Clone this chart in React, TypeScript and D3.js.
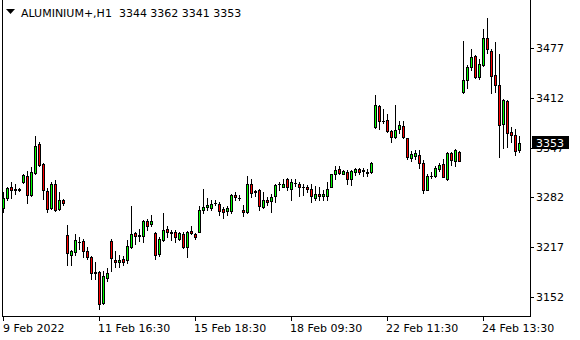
import React from "react";
import * as d3 from "d3";

const opens = [3268,3281,3295,3293,3292,3302,3310,3285,3314,3352,3326,3290,3268,3300,3267,3279,3233,3207,3210,3224,3225,3212,3204,3183,3184,3144,3177,3225,3200,3197,3201,3200,3217,3235,3233,3231,3251,3247,3235,3208,3226,3241,3236,3237,3227,3234,3217,3238,3234,3237,3265,3269,3268,3274,3273,3267,3264,3264,3285,3281,3266,3263,3300,3289,3291,3270,3279,3277,3284,3299,3296,3306,3293,3301,3300,3296,3295,3293,3281,3287,3284,3284,3296,3313,3319,3313,3315,3306,3315,3319,3318,3315,3315,3374,3402,3382,3383,3369,3361,3371,3375,3359,3334,3336,3337,3327,3292,3310,3310,3319,3326,3306,3340,3330,3341,3420,3435,3453,3467,3439,3455,3490,3474,3442,3429,3378,3408,3367,3364,3344];
const highs = [3289,3296,3302,3299,3294,3313,3316,3322,3362,3354,3327,3294,3302,3305,3289,3280,3246,3213,3234,3230,3227,3217,3205,3197,3185,3185,3189,3228,3212,3207,3205,3226,3271,3236,3241,3252,3254,3259,3236,3230,3262,3244,3239,3239,3237,3237,3238,3244,3235,3271,3293,3281,3279,3278,3276,3270,3271,3286,3289,3285,3272,3310,3306,3292,3293,3289,3283,3287,3299,3302,3306,3307,3306,3306,3302,3300,3298,3299,3297,3295,3292,3302,3313,3323,3323,3318,3318,3318,3321,3320,3321,3319,3328,3416,3403,3398,3391,3370,3403,3382,3382,3360,3343,3344,3344,3331,3312,3315,3323,3327,3332,3341,3341,3345,3343,3486,3455,3476,3468,3463,3502,3516,3476,3485,3470,3411,3409,3374,3372,3362];
const lows = [3263,3279,3281,3286,3290,3301,3275,3284,3313,3323,3280,3263,3267,3264,3266,3272,3193,3194,3207,3215,3204,3201,3175,3175,3136,3143,3173,3186,3191,3191,3193,3196,3216,3221,3225,3224,3239,3244,3201,3205,3225,3230,3226,3224,3226,3216,3204,3234,3228,3236,3261,3265,3266,3272,3259,3255,3259,3261,3279,3278,3257,3262,3283,3284,3265,3268,3272,3263,3276,3292,3295,3292,3279,3297,3284,3285,3289,3276,3279,3279,3279,3279,3295,3306,3312,3312,3300,3298,3311,3313,3310,3310,3314,3373,3372,3379,3367,3355,3360,3366,3360,3332,3329,3332,3321,3288,3291,3307,3309,3316,3308,3305,3324,3323,3329,3419,3425,3449,3438,3437,3454,3471,3419,3420,3335,3347,3348,3355,3337,3341];
const closes = [3281,3294,3291,3291,3293,3311,3285,3315,3349,3324,3291,3267,3300,3265,3278,3274,3209,3212,3226,3224,3212,3204,3183,3184,3143,3179,3183,3202,3197,3200,3198,3218,3234,3232,3231,3251,3245,3251,3207,3227,3239,3236,3235,3230,3235,3217,3237,3235,3230,3265,3270,3272,3273,3275,3264,3263,3268,3285,3282,3281,3263,3299,3288,3290,3271,3279,3276,3282,3298,3299,3299,3295,3302,3301,3296,3296,3293,3284,3286,3284,3286,3293,3312,3318,3314,3316,3306,3316,3319,3315,3316,3314,3327,3403,3382,3382,3369,3361,3370,3377,3361,3335,3339,3340,3327,3292,3310,3310,3321,3324,3309,3340,3331,3344,3330,3436,3452,3465,3440,3457,3491,3476,3441,3429,3377,3410,3366,3364,3343,3353];

const priceTicks = [3477, 3412, 3347, 3282, 3217, 3152];
const timeLabels = ["9 Feb 2022", "11 Feb 16:30", "15 Feb 18:30", "18 Feb 09:30", "22 Feb 11:30", "24 Feb 13:30"];
const timeLabelBars = [0, 24, 48, 72, 96, 120];
const title = "ALUMINIUM+,H1  3344 3362 3341 3353";
const lastPrice = 3353;

const FONT = '"DejaVu Sans", Tahoma, sans-serif';
const BULL = "#00ff00";
const BEAR = "#ff0000";

export default function App() {
  const W = 580, H = 340;
  const left = 2, right = 530, bottom = 316;
  const x = d3.scaleLinear().domain([0, opens.length - 1]).range([3, 3 + 4 * (opens.length - 1)]);
  const y = d3.scaleLinear().domain([3152, 3477]).range([296.7, 48.3]);
  const ry = (p: number) => Math.round(y(p));

  const candles = opens.map((o, i) => {
    const c = closes[i];
    const cx = Math.round(x(i));
    const yh = ry(highs[i]);
    const yl = ry(lows[i]);
    const top = ry(Math.max(o, c));
    const bot = ry(Math.min(o, c));
    const col = c > o ? BULL : BEAR;
    return (
      <g key={i}>
        <line x1={cx + 0.5} x2={cx + 0.5} y1={yh} y2={yl + 1} stroke="#000" strokeWidth={1} />
        {bot - top >= 1 ? (
          <rect x={cx - 0.5} y={top + 0.5} width={2} height={bot - top} fill={col} stroke="#000" strokeWidth={1} />
        ) : (
          <line x1={cx - 1} x2={cx + 2} y1={top + 0.5} y2={top + 0.5} stroke="#000" strokeWidth={1} />
        )}
      </g>
    );
  });

  const ly = y(lastPrice);

  return (
    <svg width={W} height={H} style={{ position: "absolute", left: 0, top: 0, background: "#fff" }} fontFamily={FONT}>
      <rect x={0} y={0} width={W} height={H} fill="#fff" />
      {/* frame */}
      <line x1={left + 0.5} x2={left + 0.5} y1={0} y2={bottom + 1} stroke="#000" />
      <line x1={right + 0.5} x2={right + 0.5} y1={0} y2={bottom + 1} stroke="#000" />
      <line x1={left} x2={right + 1} y1={bottom + 0.5} y2={bottom + 0.5} stroke="#000" />
      {candles}
      {/* price axis */}
      {priceTicks.map((p) => (
        <g key={p}>
          <line x1={right + 1} x2={right + 4} y1={Math.round(y(p)) + 0.5} y2={Math.round(y(p)) + 0.5} stroke="#000" />
          <text x={536} y={y(p)} dy="0.36em" fontSize={11} fill="#000">{p}</text>
        </g>
      ))}
      <rect x={532} y={Math.round(ly) - 7} width={37} height={13} fill="#000" />
      <text x={536} y={ly} dy="0.36em" fontSize={11} fill="#fff">{lastPrice}</text>
      {/* time axis */}
      {timeLabelBars.map((b, k) => {
        const tx = Math.round(x(b));
        return (
          <g key={b}>
            <line x1={tx + 0.5} x2={tx + 0.5} y1={bottom + 1} y2={bottom + 5} stroke="#000" />
            <text x={k === 0 ? tx : tx - 1} y={332} fontSize={11} fill="#000">{timeLabels[k]}</text>
          </g>
        );
      })}
      {/* title */}
      <path d="M6,9 L15,9 L10.5,14 Z" fill="#000" />
      <text x={21} y={17} fontSize={11} fill="#000" style={{ whiteSpace: "pre" }}>{title}</text>
    </svg>
  );
}
